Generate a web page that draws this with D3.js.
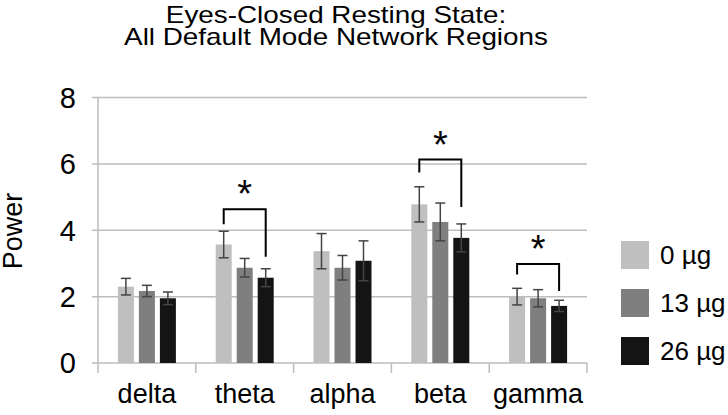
<!DOCTYPE html>
<html>
<head>
<meta charset="utf-8">
<script src="https://cdn.jsdelivr.net/npm/d3@7"></script>
<style>
  body { margin: 0; background: #fff; }
  text { font-family: "Liberation Sans", Arial, sans-serif; fill: #000; }
</style>
</head>
<body>
<script>
// DATA
var bands = ["delta", "theta", "alpha", "beta", "gamma"];
var doses = ["0 µg", "13 µg", "26 µg"];
var dose0 = [2.30, 3.57, 3.37, 4.78, 2.00];
var dose13 = [2.17, 2.87, 2.87, 4.25, 1.95];
var dose26 = [1.95, 2.57, 3.08, 3.77, 1.72];
var err0 = [0.25, 0.40, 0.53, 0.53, 0.25];
var err13 = [0.17, 0.28, 0.37, 0.57, 0.26];
var err26 = [0.19, 0.27, 0.60, 0.42, 0.17];
var yTicks = [0, 2, 4, 6, 8];
// significance brackets: band, top value, left leg end, right leg end
var sigBand = ["theta", "beta", "gamma"];
var sigTop = [4.63, 6.13, 2.98];
var sigLeft = [4.18, 5.74, 2.67];
var sigRight = [3.20, 4.70, 2.17];

var colors = ["#bfbfbf", "#7f7f7f", "#141414"];
var means = [dose0, dose13, dose26];
var errs = [err0, err13, err26];

//SETTING UP THE CANVAS
var w = 728, h = 415;
var plotL = 98, plotR = 587, plotT = 97.5, plotB = 363;

var svg = d3.select("body").append("svg")
  .attr("width", w)
  .attr("height", h);

var y = d3.scaleLinear().domain([0, 8]).range([plotB, plotT]);
var x0 = d3.scaleBand().domain(bands).range([plotL, plotR]);
var x1 = d3.scaleBand().domain(doses).range([0, 58]).paddingInner(0.238);
var groupOff = x0.bandwidth() / 2 - 29;

// title (a bit wide in the original)
svg.append("text").attr("transform", "translate(336,22.5) scale(1.16,1)").attr("text-anchor", "middle")
  .style("font-size", "24px").text("Eyes-Closed Resting State:");
svg.append("text").attr("transform", "translate(336,45) scale(1.16,1)").attr("text-anchor", "middle")
  .style("font-size", "24px").text("All Default Mode Network Regions");

// gridlines + ticks on the left
svg.selectAll(".grid").data(yTicks).join("line")
  .attr("x1", plotL - 6).attr("x2", plotR)
  .attr("y1", function(d){ return y(d); }).attr("y2", function(d){ return y(d); })
  .attr("stroke", "#bdbdbd").attr("stroke-width", 1.5);

svg.selectAll(".ylab").data(yTicks).join("text")
  .attr("x", 76).attr("y", function(d){ return y(d); }).attr("dy", "0.36em")
  .attr("text-anchor", "end").style("font-size", "29px")
  .text(function(d){ return d; });

// y axis line
svg.append("line").attr("x1", plotL).attr("x2", plotL).attr("y1", plotT).attr("y2", plotB)
  .attr("stroke", "#bdbdbd").attr("stroke-width", 1.5);

// x ticks between categories
var xTickPos = bands.map(function(b){ return x0(b); }).concat([plotR]);
svg.selectAll(".xtick").data(xTickPos).join("line")
  .attr("x1", function(d){ return d; }).attr("x2", function(d){ return d; })
  .attr("y1", plotB).attr("y2", plotB + 10)
  .attr("stroke", "#bdbdbd").attr("stroke-width", 1.5);

svg.selectAll(".xlab").data(bands).join("text")
  .attr("x", function(d){ return x0(d) + x0.bandwidth() / 2; })
  .attr("y", 402.5).attr("text-anchor", "middle").style("font-size", "27px")
  .text(function(d){ return d; });

// y axis title
svg.append("text").attr("transform", "translate(22,231) rotate(-90)")
  .attr("text-anchor", "middle").style("font-size", "27px").text("Power");

// bars
var barData = [];
bands.forEach(function(b, i){
  doses.forEach(function(s, j){
    barData.push({band: b, dose: s, k: j, v: means[j][i], e: errs[j][i]});
  });
});

var g = svg.selectAll(".bar").data(barData).join("g")
  .attr("transform", function(d){ return "translate(" + (x0(d.band) + groupOff + x1(d.dose)) + ",0)"; });

g.append("rect")
  .attr("x", 0).attr("width", x1.bandwidth())
  .attr("y", function(d){ return y(d.v); })
  .attr("height", function(d){ return plotB - y(d.v); })
  .attr("fill", function(d){ return colors[d.k]; });

var cx = x1.bandwidth() / 2;
g.append("line")
  .attr("x1", cx).attr("x2", cx)
  .attr("y1", function(d){ return y(d.v + d.e); }).attr("y2", function(d){ return y(d.v - d.e); })
  .attr("stroke", "#444").attr("stroke-width", 1.5);
g.append("line")
  .attr("x1", cx - 5).attr("x2", cx + 5)
  .attr("y1", function(d){ return y(d.v + d.e); }).attr("y2", function(d){ return y(d.v + d.e); })
  .attr("stroke", "#444").attr("stroke-width", 1.5);
g.append("line")
  .attr("x1", cx - 5).attr("x2", cx + 5)
  .attr("y1", function(d){ return y(d.v - d.e); }).attr("y2", function(d){ return y(d.v - d.e); })
  .attr("stroke", "#444").attr("stroke-width", 1.5);

// significance brackets
sigBand.forEach(function(b, i){
  var xa = x0(b) + groupOff + x1(doses[0]) + cx;
  var xb = x0(b) + groupOff + x1(doses[2]) + cx;
  svg.append("path")
    .attr("d", "M" + xa + "," + y(sigLeft[i]) + "V" + y(sigTop[i]) + "H" + xb + "V" + y(sigRight[i]))
    .attr("fill", "none").attr("stroke", "#000").attr("stroke-width", 2);
  svg.append("text").attr("x", (xa + xb) / 2).attr("y", y(sigTop[i]) - 2)
    .attr("text-anchor", "middle").style("font-size", "38px").text("*");
});

// legend
var leg = svg.selectAll(".leg").data(doses).join("g")
  .attr("transform", function(d, i){ return "translate(621," + (241 + i * 48) + ")"; });
leg.append("rect").attr("width", 28).attr("height", 28)
  .attr("fill", function(d, i){ return colors[i]; });
leg.append("text").attr("x", 39).attr("y", 14).attr("dy", "0.36em")
  .style("font-size", "26px").text(function(d){ return d; });
</script>
</body>
</html>
